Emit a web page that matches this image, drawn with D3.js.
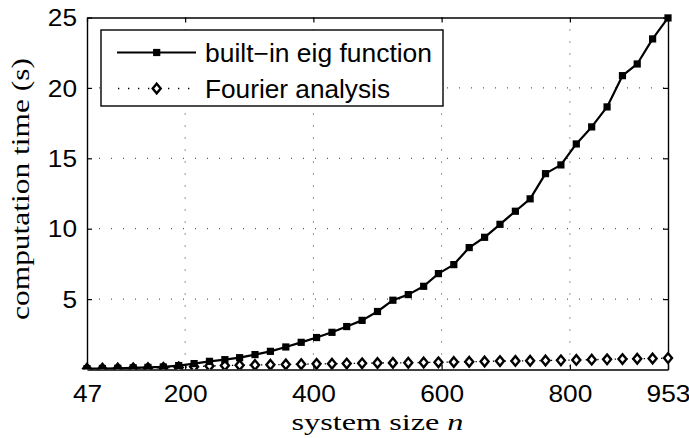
<!DOCTYPE html>
<html>
<head>
<meta charset="utf-8">
<script src="https://cdn.jsdelivr.net/npm/d3@7"></script>
<style>
  body { margin: 0; background: #fff; }
  svg { display: block; }
</style>
</head>
<body>
<div id="chart"></div>
<script>
// system sizes (x) and timings
var sizes = [47, 71, 95, 119, 142, 166, 190, 214, 238, 262, 285, 309, 333, 357, 381, 405, 429, 452, 476, 500,
             524, 548, 572, 595, 619, 643, 667, 691, 715, 738, 762, 786, 810, 834, 858, 882, 905, 929, 953];
var eigTimes = [0.06, 0.07, 0.09, 0.12, 0.15, 0.18, 0.28, 0.42, 0.58, 0.70, 0.84, 1.06, 1.29, 1.60, 1.93, 2.27, 2.64, 3.05, 3.49, 4.12,
                4.92, 5.32, 5.91, 6.81, 7.45, 8.66, 9.39, 10.31, 11.24, 12.12, 13.91, 14.53, 16.02, 17.23, 18.65, 20.87, 21.70, 23.48, 24.97];
var fourierTimes = [0.05, 0.06, 0.07, 0.08, 0.10, 0.12, 0.15, 0.20, 0.25, 0.28, 0.30, 0.32, 0.34, 0.36, 0.38, 0.40, 0.41, 0.42, 0.44, 0.46,
                    0.47, 0.48, 0.50, 0.51, 0.53, 0.55, 0.57, 0.60, 0.61, 0.62, 0.64, 0.65, 0.68, 0.70, 0.72, 0.74, 0.76, 0.78, 0.81];
var xTicks = [47, 200, 400, 600, 800, 953];
var yTicks = [5, 10, 15, 20, 25];
var seriesNames = ["built\u2212in eig function", "Fourier analysis"];

var W = 689, H = 438;
var margin = {top: 17.5, right: 21, bottom: 68.5, left: 87};
var w = W - margin.left - margin.right,
    h = H - margin.top - margin.bottom;

var svg = d3.select("#chart").append("svg")
    .attr("width", W)
    .attr("height", H);

var g = svg.append("g")
    .attr("transform", "translate(" + margin.left + "," + margin.top + ")");

var x = d3.scaleLinear().domain([47, 953]).range([0, w]);
var y = d3.scaleLinear().domain([0, 25]).range([h, 0]);

svg.append("defs").append("clipPath").attr("id", "plotclip")
  .append("rect").attr("x", -6).attr("y", -6).attr("width", w + 12).attr("height", h + 6);

//grid
var grid = g.append("g").attr("class", "grid");
grid.selectAll(".vgrid")
    .data(xTicks.slice(1, -1))
    .enter().append("line")
    .attr("x1", function(d){ return x(d); })
    .attr("x2", function(d){ return x(d); })
    .attr("y1", 0).attr("y2", h)
    .style("stroke", "#333")
    .style("stroke-width", 1)
    .style("stroke-dasharray", "1,11");
grid.selectAll(".hgrid")
    .data(yTicks.slice(0, -1))
    .enter().append("line")
    .attr("y1", function(d){ return y(d); })
    .attr("y2", function(d){ return y(d); })
    .attr("x1", 0).attr("x2", w)
    .style("stroke", "#333")
    .style("stroke-width", 1)
    .style("stroke-dasharray", "1,11");

//axes, ticks pointing inwards on all four sides
var tickFont = "Liberation Sans, Arial, Helvetica, sans-serif";
var xAxis = g.append("g").attr("transform", "translate(0," + h + ")")
    .call(d3.axisBottom(x).tickValues(xTicks).tickSizeInner(-5).tickSizeOuter(0).tickPadding(16).tickFormat(d3.format("d")));
var yAxis = g.append("g")
    .call(d3.axisLeft(y).tickValues(yTicks).tickSizeInner(-5).tickSizeOuter(0).tickPadding(10));
var xTop = g.append("g")
    .call(d3.axisTop(x).tickValues(xTicks).tickSizeInner(-5).tickSizeOuter(0).tickFormat(""));
var yRight = g.append("g").attr("transform", "translate(" + w + ",0)")
    .call(d3.axisRight(y).tickValues(yTicks).tickSizeInner(-5).tickSizeOuter(0).tickFormat(""));

[xAxis, yAxis, xTop, yRight].forEach(function(a){
    a.select(".domain").style("stroke", "#000").style("stroke-width", 1.4);
    a.selectAll(".tick line").style("stroke", "#000").style("stroke-width", 1.2);
    a.selectAll(".tick text")
        .style("font-family", tickFont)
        .style("font-size", "23px")
        .style("fill", "#000")
        .attr("textLength", function(){ return this.textContent.length * 14.6; })
        .attr("lengthAdjust", "spacingAndGlyphs");
});
xAxis.selectAll(".tick text").attr("dy", "0.72em");
yAxis.selectAll(".tick text").attr("dy", "0.36em");

//lines
var plot = g.append("g").attr("clip-path", "url(#plotclip)");

var lineEig = d3.line()
    .x(function(d, i){ return x(sizes[i]); })
    .y(function(d){ return y(d); });

plot.append("path")
    .datum(fourierTimes)
    .attr("d", lineEig)
    .style("fill", "none")
    .style("stroke", "#000")
    .style("stroke-width", 1.3)
    .style("stroke-dasharray", "1.3,4.5");

plot.append("path")
    .datum(eigTimes)
    .attr("d", lineEig)
    .style("fill", "none")
    .style("stroke", "#000")
    .style("stroke-width", 2.2)
    .style("stroke-linejoin", "round");

//markers
var diamond = "M0,-4.8L4,0L0,4.8L-4,0Z";
plot.selectAll(".fmark")
    .data(fourierTimes)
    .enter().append("path")
    .attr("class", "fmark")
    .attr("transform", function(d, i){ return "translate(" + x(sizes[i]) + "," + y(d) + ")"; })
    .attr("d", diamond)
    .style("fill", "#fff")
    .style("stroke", "#000")
    .style("stroke-width", 2.4);

plot.selectAll(".emark")
    .data(eigTimes)
    .enter().append("rect")
    .attr("class", "emark")
    .attr("x", function(d, i){ return x(sizes[i]) - 3.6; })
    .attr("y", function(d){ return y(d) - 3.6; })
    .attr("width", 7.2).attr("height", 7.2)
    .style("fill", "#000");

//legend
var legend = g.append("g").attr("transform", "translate(" + (101 - margin.left) + "," + (30 - margin.top) + ")");
legend.append("rect")
    .attr("width", 342).attr("height", 76)
    .style("fill", "#fff")
    .style("stroke", "#000")
    .style("stroke-width", 1.4);

var rows = [22.5, 58.5];
var legendWidths = [227, 185];
legend.append("line")
    .attr("x1", 16).attr("x2", 95).attr("y1", rows[0]).attr("y2", rows[0])
    .style("stroke", "#000").style("stroke-width", 2.2);
legend.append("rect")
    .attr("x", 55.7 - 3.6).attr("y", rows[0] - 3.6).attr("width", 7.2).attr("height", 7.2)
    .style("fill", "#000");
legend.append("line")
    .attr("x1", 17).attr("x2", 95).attr("y1", rows[1]).attr("y2", rows[1])
    .style("stroke", "#000").style("stroke-width", 1.3).style("stroke-dasharray", "1.3,8.7");
legend.append("path")
    .attr("transform", "translate(55.7," + rows[1] + ")")
    .attr("d", diamond)
    .style("fill", "#fff").style("stroke", "#000").style("stroke-width", 2.4);

legend.selectAll(".ltext")
    .data(seriesNames)
    .enter().append("text")
    .attr("x", 104)
    .attr("y", function(d, i){ return rows[i]; })
    .attr("dy", "0.36em")
    .attr("textLength", function(d, i){ return legendWidths[i]; })
    .attr("lengthAdjust", "spacingAndGlyphs")
    .style("font-family", tickFont)
    .style("font-size", "25px")
    .style("fill", "#000")
    .text(function(d){ return d; });

//axis labels
var serif = "Liberation Serif, Times New Roman, serif";
svg.append("text")
    .attr("x", margin.left + w / 2)
    .attr("y", 430)
    .attr("text-anchor", "middle")
    .attr("textLength", 172)
    .attr("lengthAdjust", "spacingAndGlyphs")
    .style("font-family", serif)
    .style("font-size", "24px")
    .html("system size <tspan font-style='italic'>n</tspan>");

svg.append("text")
    .attr("transform", "translate(29," + 189 + ") rotate(-90)")
    .attr("text-anchor", "middle")
    .attr("textLength", 262)
    .attr("lengthAdjust", "spacingAndGlyphs")
    .style("font-family", serif)
    .style("font-size", "25px")
    .text("computation time (s)");
</script>
</body>
</html>
